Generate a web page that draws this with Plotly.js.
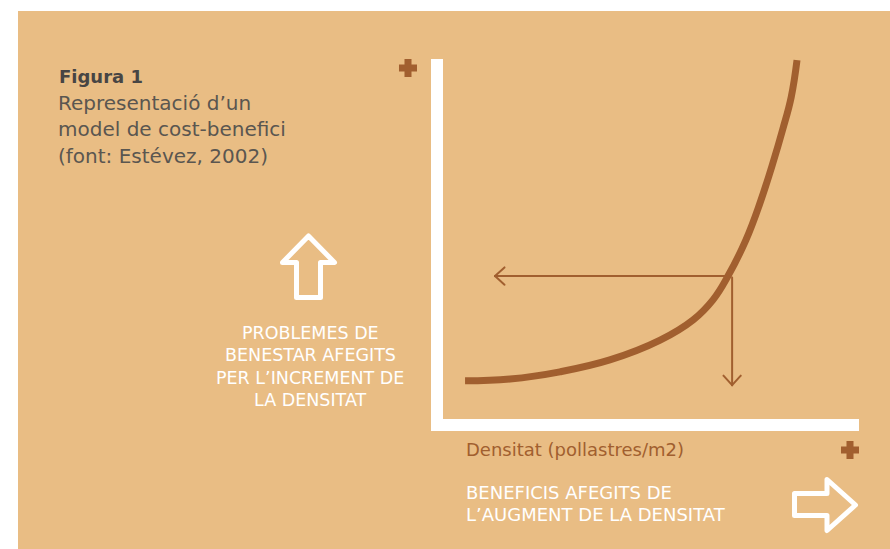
<!DOCTYPE html>
<html><head><meta charset="utf-8">
<script src="https://cdn.plot.ly/plotly-3.0.1.min.js"></script>
<style>
html,body{margin:0;padding:0;background:#fff}
#chart{width:890px;height:549px}
.shapelayer path{stroke-linejoin:round}
.annotation-arrow-g path{stroke-linecap:round}
</style>
</head><body><div id="chart"></div>
<script>
// Conceptual cost-benefit curve: density (x) vs added welfare problems (y), relative units 0-100
const densitat  = [5.3, 16.1, 28.1, 40.1, 52.2, 60.1, 64.9, 68.5, 72.8, 76.2, 79.3, 81.7, 83.7, 85.1];
const problemes = [10.6, 11.1, 13.1, 16.4, 21.9, 27.5, 33.1, 39.7, 49.7, 60.0, 71.1, 80.6, 89.4, 99.7];
// Reading marked on the curve
const puntDensitat = 69.5;
const puntProblemes = 39.7;
const fletxaEsquerraX = 12.5;
const fletxaBaixY = 9.4;
// Texts
const titol = 'Figura 1';
const subtitol = ['Representació d\u2019un', 'model de cost-benefici', '(font: Estévez, 2002)'];
const textProblemes = ['PROBLEMES DE', 'BENESTAR AFEGITS', 'PER L\u2019INCREMENT DE', 'LA DENSITAT'];
const textEix = 'Densitat (pollastres/m2)';
const textBeneficis = ['BENEFICIS AFEGITS DE', 'L\u2019AUGMENT DE LA DENSITAT'];

const W = 890, H = 549;
const TAN = '#E9BD84', BROWN = '#A15F2F', WHITE = '#FFFFFF';
const px = x => x / W, py = y => 1 - y / H;
function path(pts, close) {
  return pts.map((p, i) => (i ? 'L' : 'M') + px(p[0]).toFixed(5) + ',' + py(p[1]).toFixed(5)).join(' ') + (close ? ' Z' : '');
}
function plus(cx, cy, s, a) {
  const h = s / 2, t = a / 2;
  return path([[cx - t, cy - h], [cx + t, cy - h], [cx + t, cy - t], [cx + h, cy - t], [cx + h, cy + t], [cx + t, cy + t],
    [cx + t, cy + h], [cx - t, cy + h], [cx - t, cy + t], [cx - h, cy + t], [cx - h, cy - t], [cx - t, cy - t]], true);
}
const FONT = 'DejaVu Sans';
function txt(text, x, baseline, size, color, anchor, bold) {
  return {
    xref: 'paper', yref: 'paper', x: px(x), y: py(baseline - 0.37 * size),
    xanchor: anchor, yanchor: 'middle', showarrow: false, text: text,
    font: {family: FONT, size: size, color: color, weight: bold ? 700 : 400}
  };
}
// plain arrow segment in data coords
function seg(x, y, ax, ay) {
  return {x: x, y: y, ax: ax, ay: ay, axref: 'x', ayref: 'y', xref: 'x', yref: 'y', text: '', showarrow: true,
    arrowhead: 0, arrowwidth: 2, arrowcolor: BROWN, standoff: 0, startstandoff: 0};
}
// chevron arm from a data point, offset in pixels
function arm(x, y, dx, dy) {
  return {x: x, y: y, ax: dx, ay: dy, xref: 'x', yref: 'y', text: '', showarrow: true,
    arrowhead: 0, arrowwidth: 2, arrowcolor: BROWN, standoff: 0, startstandoff: 0};
}

const shapes = [
  {type: 'rect', xref: 'paper', yref: 'paper', x0: px(18), x1: 1, y0: 0, y1: py(11), fillcolor: TAN, line: {width: 0}, layer: 'below'},
  {type: 'path', xref: 'paper', yref: 'paper', path: plus(408, 68, 18, 7), fillcolor: BROWN, line: {width: 0}},
  {type: 'path', xref: 'paper', yref: 'paper', path: plus(850, 450, 18, 7), fillcolor: BROWN, line: {width: 0}},
  {type: 'path', xref: 'paper', yref: 'paper',
   path: path([[296.5, 297.5], [296.5, 262.5], [282.5, 262.5], [308.5, 236], [334.5, 262.5], [320.5, 262.5], [320.5, 297.5]], true),
   line: {color: WHITE, width: 5}, fillcolor: 'rgba(0,0,0,0)'},
  {type: 'path', xref: 'paper', yref: 'paper',
   path: path([[794.5, 493.5], [827, 493.5], [827, 479.5], [855.5, 505], [827, 530.5], [827, 515.5], [794.5, 515.5]], true),
   line: {color: WHITE, width: 5}, fillcolor: 'rgba(0,0,0,0)'}
];

const annotations = [
  seg(fletxaEsquerraX, puntProblemes, puntDensitat, puntProblemes),
  arm(fletxaEsquerraX, puntProblemes, 11, -10),
  arm(fletxaEsquerraX, puntProblemes, 11, 10),
  seg(puntDensitat, fletxaBaixY, puntDensitat, puntProblemes),
  arm(puntDensitat, fletxaBaixY, -10, -11),
  arm(puntDensitat, fletxaBaixY, 10, -11),
  txt(titol, 57, 83, 18, '#474544', 'left', true)
];
const subBase = [110, 136.5, 163];
subtitol.forEach((t, i) => annotations.push(txt(t, 56, subBase[i], 20, '#5A5650', 'left')));
const probBase = [339, 361.5, 384, 406.5];
textProblemes.forEach((t, i) => annotations.push(txt(t, 310, probBase[i], 17.5, WHITE, 'center')));
annotations.push(txt(textEix, 464, 456, 18, BROWN, 'left'));
const benBase = [499, 521.5];
textBeneficis.forEach((t, i) => annotations.push(txt(t, 464, benBase[i], 18, WHITE, 'left')));

const trace = {
  x: densitat, y: problemes, type: 'scatter', mode: 'lines',
  line: {color: BROWN, width: 7, shape: 'spline', smoothing: 1.2, simplify: false},
  hoverinfo: 'skip', showlegend: false, cliponaxis: false
};

const axisCommon = {showline: true, linecolor: WHITE, linewidth: 12, showgrid: false, zeroline: false,
  showticklabels: false, ticks: '', fixedrange: true};
const layout = {
  width: W, height: H, margin: {l: 0, r: 0, t: 0, b: 0},
  paper_bgcolor: WHITE, plot_bgcolor: 'rgba(0,0,0,0)', showlegend: false,
  xaxis: Object.assign({}, axisCommon, {domain: [px(443), px(859)], range: [0, 100]}),
  yaxis: Object.assign({}, axisCommon, {domain: [py(419), py(59)], range: [0, 100]}),
  shapes: shapes, annotations: annotations
};
Plotly.newPlot('chart', [trace], layout, {displayModeBar: false, staticPlot: true});
</script>
</body></html>
